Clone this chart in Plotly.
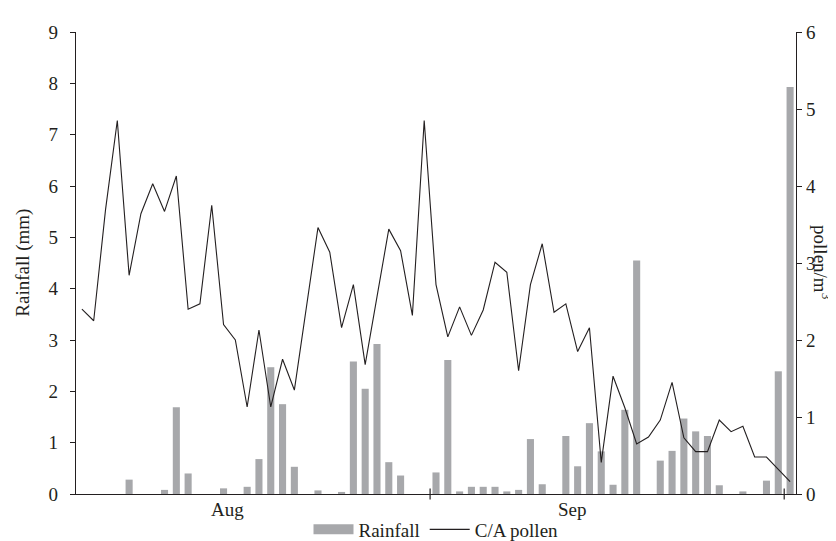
import plotly.graph_objects as go

# Day index 0..60 (Aug -> Sep)
days = list(range(61))

rainfall = [0, 0, 0, 0, 0.28, 0, 0, 0.08, 1.69, 0.40,
            0, 0, 0.11, 0, 0.14, 0.68, 2.47, 1.75, 0.53, 0,
            0.07, 0, 0.04, 2.58, 2.05, 2.92, 0.62, 0.36, 0, 0,
            0.42, 2.61, 0.05, 0.14, 0.14, 0.14, 0.05, 0.08, 1.07, 0.19,
            0, 1.13, 0.54, 1.38, 0.83, 0.18, 1.64, 4.55, 0, 0.65,
            0.84, 1.47, 1.22, 1.13, 0.17, 0, 0.05, 0, 0.26, 2.39,
            7.93]

pollen = [2.40, 2.25, 3.69, 4.85, 2.84, 3.64, 4.03, 3.67, 4.13, 2.40,
          2.47, 3.75, 2.20, 2.00, 1.13, 2.13, 1.13, 1.75, 1.35, 2.41,
          3.46, 3.14, 2.16, 2.72, 1.68, 2.56, 3.44, 3.16, 2.32, 4.85,
          2.72, 2.04, 2.43, 2.06, 2.39, 3.01, 2.88, 1.60, 2.72, 3.25,
          2.36, 2.47, 1.85, 2.16, 0.41, 1.53, 1.12, 0.65, 0.74, 0.96,
          1.45, 0.73, 0.55, 0.55, 0.96, 0.81, 0.88, 0.48, 0.48, 0.32,
          0.16]

month_labels = ["Aug", "Sep"]
month_label_pos = [12.3, 41.6]
month_bounds = [29.5, 59.5]

FONT = "Liberation Serif"
INK = "#231f20"
BAR = "#a7a8ab"

fig = go.Figure()
fig.add_trace(go.Bar(x=days, y=rainfall, marker=dict(color=BAR, line=dict(width=0)),
                     width=0.6, name="Rainfall", showlegend=False, yaxis="y"))
fig.add_trace(go.Scatter(x=days, y=pollen, mode="lines", line=dict(color=INK, width=1.1),
                         name="C/A pollen", showlegend=False, yaxis="y2"))
# legend entries
fig.add_trace(go.Scatter(x=[None], y=[None], mode="lines", line=dict(color=BAR, width=10),
                         name="Rainfall"))
fig.add_trace(go.Scatter(x=[None], y=[None], mode="lines", line=dict(color=INK, width=1.1),
                         name="C/A pollen"))

shapes = []
for b in month_bounds:
    shapes.append(dict(type="line", xref="x", yref="paper", x0=b, x1=b, y0=-0.012, y1=0.012,
                       line=dict(color=INK, width=1.2)))

annotations = [
    dict(text="Rainfall (mm)", xref="paper", yref="paper", x=-0.074, y=0.5,
         textangle=-90, showarrow=False, font=dict(size=19), xanchor="center", yanchor="middle"),
    dict(text="pollen/m<sup>3</sup>", xref="paper", yref="paper", x=1.036, y=0.5,
         textangle=90, showarrow=False, font=dict(size=19), xanchor="center", yanchor="middle"),
]
for lab, pos in zip(month_labels, month_label_pos):
    annotations.append(dict(text=lab, xref="x", yref="paper", x=pos, y=-0.033,
                            showarrow=False, font=dict(size=19), xanchor="center",
                            yanchor="middle"))

fig.update_layout(
    width=836, height=541,
    margin=dict(l=68, r=48, t=24, b=55, autoexpand=False),
    paper_bgcolor="white", plot_bgcolor="white",
    font=dict(family=FONT, size=19, color=INK),
    bargap=0.4,
    xaxis=dict(range=[-0.5, 60.5], showticklabels=False,
               ticks="", showline=True, linecolor=INK, linewidth=1.3, showgrid=False,
               zeroline=False),
    yaxis=dict(range=[0, 9], dtick=1, ticks="outside", ticklen=5, tickcolor=INK, tickwidth=1.2,
               showline=True, linecolor=INK, linewidth=1.3, showgrid=False, zeroline=False,
               tickfont=dict(size=19), ticklabelstandoff=8),
    yaxis2=dict(range=[0, 6], dtick=1, ticks="outside", ticklen=5, tickcolor=INK, tickwidth=1.2,
                showline=True, linecolor=INK, linewidth=1.3, showgrid=False, zeroline=False,
                overlaying="y", side="right", tickfont=dict(size=19)),
    legend=dict(orientation="h", x=0.5, xanchor="center", y=0.036, yref="container",
                yanchor="middle", font=dict(size=19), bgcolor="rgba(0,0,0,0)", itemwidth=40),
    shapes=shapes,
    annotations=annotations,
)

fig.write_html("out.html")
